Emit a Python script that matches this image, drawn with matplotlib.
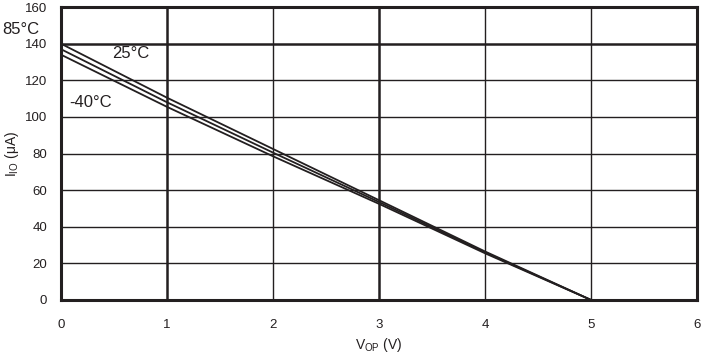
import matplotlib
matplotlib.use("Agg")
import matplotlib.pyplot as plt

plt.rcParams['font.family'] = ['Liberation Sans', 'DejaVu Sans']

# supply voltage (V)
vop = [0, 1, 2, 3, 4, 5]
# output current (uA) per temperature
io_85 = [140, 110.5, 82.5, 54.5, 26.5, 0]
io_25 = [137, 108, 80.5, 53.5, 26, 0]
io_m40 = [134, 105.5, 78.5, 52.5, 25.5, 0]

xticks = [0, 1, 2, 3, 4, 5, 6]
yticks = [0, 20, 40, 60, 80, 100, 120, 140, 160]

fig = plt.figure(figsize=(7.02, 3.55), dpi=100)
ax = fig.add_axes([0.0869, 0.155, 0.9061, 0.825])

# grid - some lines are drawn heavier in the original
for x in [2, 4, 5]:
    ax.axvline(x, color='#231f20', lw=1.0, zorder=1)
for x in [1, 3]:
    ax.axvline(x, color='#231f20', lw=1.8, zorder=1)
for y in [20, 40, 60, 80, 100, 120]:
    ax.axhline(y, color='#231f20', lw=1.0, zorder=1)
ax.axhline(140, color='#231f20', lw=1.8, zorder=1)

for series in [io_85, io_25, io_m40]:
    ax.plot(vop, series, color='#231f20', lw=1.3, zorder=3)

ax.set_xlim(0, 6)
ax.set_ylim(0, 160)
ax.set_xticks(xticks)
ax.set_yticks(yticks)
ax.tick_params(length=0, labelsize=9.5, colors='#231f20')
ax.tick_params(axis='x', pad=14)
ax.tick_params(axis='y', pad=10)
for s in ax.spines.values():
    s.set_linewidth(2.2)
    s.set_color('#231f20')

ax.set_xlabel('V$_{\\mathregular{OP}}$ (V)', fontsize=10, color='#231f20', va='center')
ax.set_ylabel('I$_{\\mathregular{IO}}$ (μA)', fontsize=10, color='#231f20', va='center')
ax.xaxis.set_label_coords(0.5, -0.155)
ax.yaxis.set_label_coords(-0.077, 0.5)

ax.text(-0.55, 147.5, '85°C', fontsize=12, va='center', ha='left', color='#231f20', clip_on=False)
ax.text(0.48, 134.5, '25°C', fontsize=12, va='center', ha='left', color='#231f20')
ax.text(0.075, 108, '-40°C', fontsize=12, va='center', ha='left', color='#231f20')

fig.savefig('out.png', dpi=100)
